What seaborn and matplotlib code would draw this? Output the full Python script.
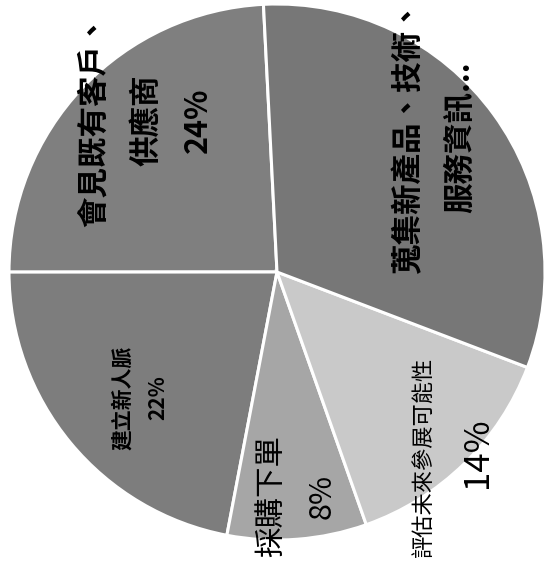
import matplotlib
matplotlib.use("Agg")
import matplotlib.pyplot as plt
import seaborn as sns

# ── data ─────────────────────────────────
labels = ["會見既有客戶、\n供應商", "建立新人脈", "採購下單",
          "評估未來參展可能性", "蒐集新產品、技術、\n服務資訊..."]
values = [24.2, 22.0, 8.4, 13.8, 31.6]

# ── style ────────────────────────────────
sns.set_style("white")
plt.rcParams["font.family"] = ["Noto Sans CJK TC", "DejaVu Sans"]

colors = ["#7f7f7f", "#7d7d7d", "#a6a6a6", "#c9c9c9", "#777777"]

W, H = 545, 573
CX, CY, R = 277, 272, 268   # pie centre / radius in pixels


def to_data(px, py):
    return (px - CX) / R, (CY - py) / R


fig = plt.figure(figsize=(W / 100, H / 100), dpi=100)
ax = fig.add_axes([0, 0, 1, 1])

ax.pie(values, colors=colors, startangle=92.9, counterclock=True,
       radius=1, wedgeprops=dict(edgecolor="white", linewidth=2.2))
ax.set_aspect("auto")
ax.set_xlim(-CX / R, (W - CX) / R)
ax.set_ylim(-(H - CY) / R, CY / R)
ax.axis("off")

pct = [f"{v:.0f}%" for v in values]

# label anchors (pixel positions) and text styles
txt_style = dict(rotation=90, ha="center", va="center",
                 multialignment="center", color="black", linespacing=1.8)

x, y = to_data(146, 120)
ax.text(x, y, labels[0] + "\n" + pct[0], fontsize=22, fontweight="bold", **txt_style)

x, y = to_data(140, 398)
ax.text(x, y, labels[1] + "\n" + pct[1], fontsize=15, fontweight="bold", **txt_style)

x, y = to_data(297, 496)
ax.text(x, y, labels[2] + "\n" + pct[2], fontsize=22, **txt_style)

x, y = to_data(423, 457)
ax.text(x, y, labels[3], fontsize=16, fontweight="light", **txt_style)
x, y = to_data(477, 453)
ax.text(x, y, pct[3], fontsize=25, **txt_style)

x, y = to_data(434, 137)
ax.text(x, y, labels[4], fontsize=22, fontweight="bold", **txt_style)

fig.savefig("out.png", dpi=100, facecolor="white")
